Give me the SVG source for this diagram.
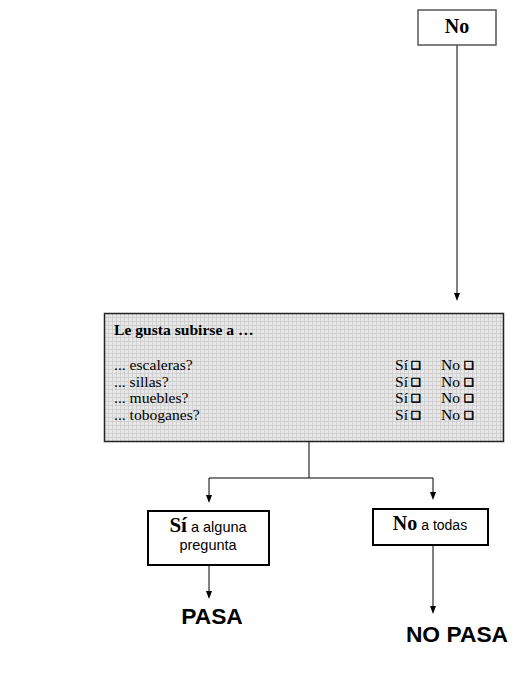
<svg xmlns="http://www.w3.org/2000/svg" width="516" height="674" viewBox="0 0 516 674">
<style>
.serif{font-family:"Liberation Serif","Times New Roman",serif;fill:#000}
.sans{font-family:"Liberation Sans",Arial,sans-serif;fill:#000}
.box{fill:#fff;stroke:#000;stroke-width:2}
.conn{stroke:#000;stroke-width:1;fill:none}
.chk{font-family:"DejaVu Sans",sans-serif;font-size:11px;fill:#000;stroke:#000;stroke-width:0.7}
</style>
<defs>
<pattern id="grid" width="4" height="4" patternUnits="userSpaceOnUse" x="104" y="313">
<rect width="4" height="4" fill="#e8e8e8"/>
<path d="M0,0.5 H4 M0.5,0 V4" stroke="#d0d0d0" stroke-width="1"/>
</pattern>
</defs>
<g id="connectors">
<line class="conn" x1="457" y1="45" x2="457" y2="293" />
<path d="M454,293 L460,293 L457,301 Z" fill="#000"/>
<line class="conn" x1="309" y1="442" x2="309" y2="478"/>
<line class="conn" x1="209" y1="478" x2="433" y2="478"/>
<line class="conn" x1="209" y1="478" x2="209" y2="495"/>
<path d="M206,495 L212,495 L209,503 Z" fill="#000"/>
<line class="conn" x1="433" y1="478" x2="433" y2="492"/>
<path d="M430,492 L436,492 L433,500 Z" fill="#000"/>
<line class="conn" x1="209" y1="565" x2="209" y2="591"/>
<path d="M206,591 L212,591 L209,599 Z" fill="#000"/>
<line class="conn" x1="433" y1="545" x2="433" y2="606"/>
<path d="M430,606 L436,606 L433,614 Z" fill="#000"/>
</g>
<g id="node-no">
<rect x="418" y="10" width="78" height="35" fill="#fff" stroke="#555" stroke-width="1.5"/>
<text class="serif" x="457" y="33" font-size="20" font-weight="bold" text-anchor="middle">No</text>
</g>
<g id="node-question">
<rect x="104.5" y="313.5" width="399" height="128" fill="url(#grid)" stroke="#222" stroke-width="1.5"/>
<text class="serif" x="114" y="335" font-size="15.6" font-weight="bold">Le gusta subirse a …</text>
<text class="serif" x="114" y="370" font-size="15.6">... escaleras?</text>
<text class="serif" x="114" y="386.5" font-size="15.6">... sillas?</text>
<text class="serif" x="114" y="403" font-size="15.6">... muebles?</text>
<text class="serif" x="114" y="419.5" font-size="15.6">... toboganes?</text>
<g class="serif" font-size="15.6">
<text x="395" y="370">Sí</text><text x="441" y="370">No</text>
<text x="395" y="386.5">Sí</text><text x="441" y="386.5">No</text>
<text x="395" y="403">Sí</text><text x="441" y="403">No</text>
<text x="395" y="419.5">Sí</text><text x="441" y="419.5">No</text>
</g>
<g class="chk">
<text x="411" y="369">❑</text><text x="464" y="369">❑</text>
<text x="411" y="385.5">❑</text><text x="464" y="385.5">❑</text>
<text x="411" y="402">❑</text><text x="464" y="402">❑</text>
<text x="411" y="418.5">❑</text><text x="464" y="418.5">❑</text>
</g>
</g>
<g id="node-si">
<rect class="box" x="148" y="511" width="121" height="54"/>
<text x="208" y="532" text-anchor="middle"><tspan class="serif" font-size="21" font-weight="bold">Sí</tspan><tspan class="sans" font-size="14.5"> a alguna</tspan></text>
<text class="sans" x="208" y="550" font-size="14.5" text-anchor="middle">pregunta</text>
</g>
<g id="node-no-todas">
<rect class="box" x="373" y="509" width="115" height="36"/>
<text x="430" y="530" text-anchor="middle"><tspan class="serif" font-size="20" font-weight="bold">No</tspan><tspan class="sans" font-size="14"> a todas</tspan></text>
</g>
<g id="node-pasa">
<text class="sans" x="212" y="624" font-size="22.8" font-weight="bold" text-anchor="middle">PASA</text>
</g>
<g id="node-nopasa">
<text class="sans" x="457" y="642" font-size="22.8" font-weight="bold" text-anchor="middle">NO PASA</text>
</g>
</svg>
